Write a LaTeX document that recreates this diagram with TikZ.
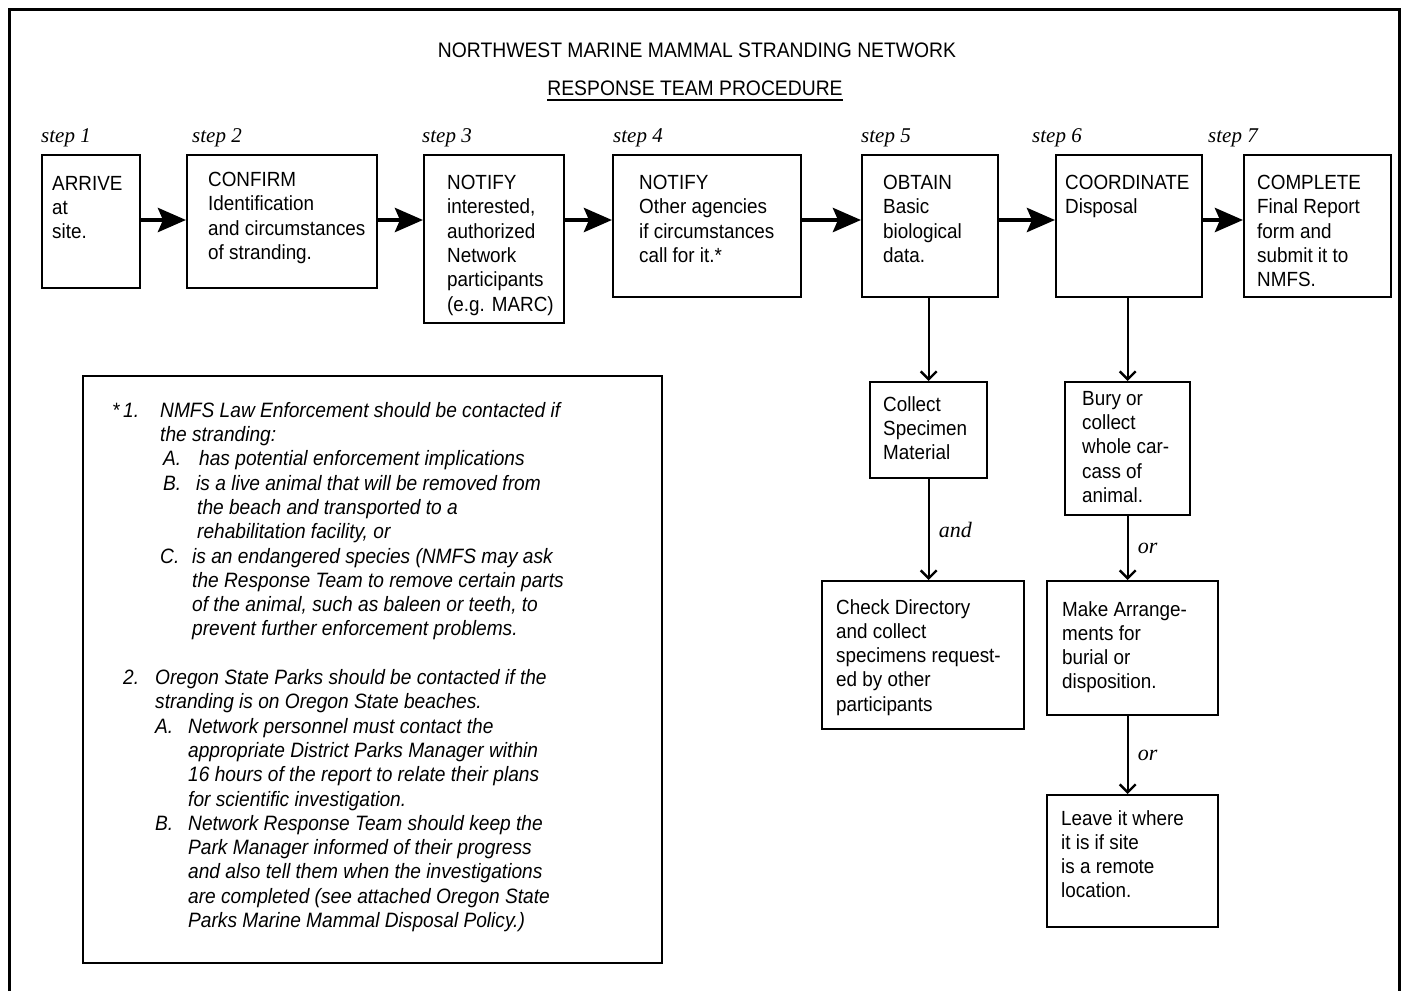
\documentclass[tikz,border=0pt]{standalone}
\usepackage{fontspec}
\setmainfont{Liberation Sans}[FakeStretch=0.92]
\newfontfamily\stepfont{Liberation Serif}
\usetikzlibrary{arrows.meta}
\tikzset{
  stepbox/.style={draw, line width=2.4pt, anchor=north west, inner sep=0pt},
  boxtext/.style={anchor=north west, inner sep=0pt, align=left, font={\fontsize{20.5}{24.3}\selectfont}},
  steplabel/.style={anchor=west, inner sep=0pt, font={\stepfont\itshape\fontsize{21}{24}\selectfont}},
  mainarrow/.style={line width=4.5pt, -{Stealth[length=28pt,width=24pt,inset=5pt]}},
  subarrow/.style={line width=2.4pt, -{Straight Barb[length=8pt,width=16pt]}},
  joinword/.style={midway, right=9pt, inner sep=0pt, font={\stepfont\itshape\fontsize{22}{24}\selectfont}},
}
\begin{document}
\begin{tikzpicture}[x=1pt,y=-1pt]
\useasboundingbox (0,0) rectangle (1405,991);
\draw[line width=3pt] (9,991) -- (9,9) -- (1399,9) -- (1399,991);
% heading
\node[font={\fontsize{21}{24}\selectfont}] (title) at (697,50) {NORTHWEST MARINE MAMMAL STRANDING NETWORK};
\node[inner sep=0pt, font={\fontsize{21}{24}\selectfont}] (subtitle) at (695,88) {RESPONSE TEAM PROCEDURE};
\draw[line width=1.6pt] ([yshift=-5pt]subtitle.base west) -- ([yshift=-5pt]subtitle.base east);
% step labels
\node[steplabel] (s1) at (41,138) {step 1}; \node[steplabel] (s2) at (192,138) {step 2};
\node[steplabel] (s3) at (422,138) {step 3}; \node[steplabel] (s4) at (613,138) {step 4};
\node[steplabel] (s5) at (861,138) {step 5}; \node[steplabel] (s6) at (1032,138) {step 6};
\node[steplabel] (s7) at (1208,138) {step 7};
% main row
\node[stepbox, minimum width=98pt, minimum height=133pt] (arrive) at (41,154) {};
\node[boxtext] (arrive-t) at (52,176) {ARRIVE\\at\\site.};
\node[stepbox, minimum width=190pt, minimum height=133pt] (confirm) at (186,154) {};
\node[boxtext] (confirm-t) at (208,172) {CONFIRM\\Identification\\and circumstances\\of stranding.};
\node[stepbox, minimum width=140pt, minimum height=168pt] (notifyp) at (423,154) {};
\node[boxtext] (notifyp-t) at (447,175) {NOTIFY\\interested,\\authorized\\Network\\participants\\(e.g. MARC)};
\node[stepbox, minimum width=188pt, minimum height=142pt] (notifya) at (612,154) {};
\node[boxtext] (notifya-t) at (639,175) {NOTIFY\\Other agencies\\if circumstances\\call for it.*};
\node[stepbox, minimum width=136pt, minimum height=142pt] (obtain) at (861,154) {};
\node[boxtext] (obtain-t) at (883,175) {OBTAIN\\Basic\\biological\\data.};
\node[stepbox, minimum width=146pt, minimum height=142pt] (coord) at (1055,154) {};
\node[boxtext] (coord-t) at (1065,175) {COORDINATE\\Disposal};
\node[stepbox, minimum width=147pt, minimum height=142pt] (complete) at (1243,154) {};
\node[boxtext] (complete-t) at (1257,175) {COMPLETE\\Final Report\\form and\\submit it to\\NMFS.};
\draw[mainarrow] ([yshift=-66pt]arrive.north east) -- ([yshift=-66pt]confirm.north west);
\draw[mainarrow] ([yshift=-66pt]confirm.north east) -- ([yshift=-66pt]notifyp.north west);
\draw[mainarrow] ([yshift=-66pt]notifyp.north east) -- ([yshift=-66pt]notifya.north west);
\draw[mainarrow] ([yshift=-66pt]notifya.north east) -- ([yshift=-66pt]obtain.north west);
\draw[mainarrow] ([yshift=-66pt]obtain.north east) -- ([yshift=-66pt]coord.north west);
\draw[mainarrow] ([yshift=-66pt]coord.north east) -- ([yshift=-66pt]complete.north west);
% branches under step 5 and step 6
\node[stepbox, minimum width=117pt, minimum height=96pt] (collect) at (869,381) {};
\node[boxtext] (collect-t) at (883,396) {Collect\\Specimen\\Material};
\node[stepbox, minimum width=202pt, minimum height=148pt] (check) at (821,580) {};
\node[boxtext] (check-t) at (836,599) {Check Directory\\and collect\\specimens request-\\ed by other\\participants};
\node[stepbox, minimum width=125pt, minimum height=133pt] (bury) at (1064,381) {};
\node[boxtext] (bury-t) at (1082,391) {Bury or\\collect\\whole car-\\cass of\\animal.};
\node[stepbox, minimum width=171pt, minimum height=134pt] (make) at (1046,580) {};
\node[boxtext] (make-t) at (1062,601) {Make Arrange-\\ments for\\burial or\\disposition.};
\node[stepbox, minimum width=171pt, minimum height=132pt] (leave) at (1046,794) {};
\node[boxtext] (leave-t) at (1061,810) {Leave it where\\it is if site\\is a remote\\location.};
\draw[subarrow] (obtain.south -| collect.north) -- (collect.north);
\draw[subarrow] (collect.south) -- node[joinword] (and) {and} (collect.south |- check.north);
\draw[subarrow] (coord.south -| bury.north) -- (bury.north);
\draw[subarrow] (bury.south) -- node[joinword] (or1) {or} (bury.south |- make.north);
\draw[subarrow] (make.south -| bury.south) -- node[joinword] (or2) {or} (leave.north -| bury.south);
% footnote box
\node[stepbox, minimum width=579pt, minimum height=587pt] (notes) at (82,375) {};
\node[boxtext, font={\itshape\fontsize{20.8}{24.3}\selectfont}] (notes-t) at (112,402) {%
\makebox[11pt][l]{*}\makebox[37pt][l]{1.}NMFS Law Enforcement should be contacted if\\
\hspace*{48pt}the stranding:\\
\hspace*{51pt}\makebox[36pt][l]{A.}has potential enforcement implications\\
\hspace*{51pt}\makebox[33pt][l]{B.}is a live animal that will be removed from\\
\hspace*{85pt}the beach and transported to a\\
\hspace*{85pt}rehabilitation facility, or\\
\hspace*{48pt}\makebox[32pt][l]{C.}is an endangered species (NMFS may ask\\
\hspace*{80pt}the Response Team to remove certain parts\\
\hspace*{80pt}of the animal, such as baleen or teeth, to\\
\hspace*{80pt}prevent further enforcement problems.\\
\mbox{}\\
\hspace*{11pt}\makebox[32pt][l]{2.}Oregon State Parks should be contacted if the\\
\hspace*{43pt}stranding is on Oregon State beaches.\\
\hspace*{43pt}\makebox[33pt][l]{A.}Network personnel must contact the\\
\hspace*{76pt}appropriate District Parks Manager within\\
\hspace*{76pt}16 hours of the report to relate their plans\\
\hspace*{76pt}for scientific investigation.\\
\hspace*{43pt}\makebox[33pt][l]{B.}Network Response Team should keep the\\
\hspace*{76pt}Park Manager informed of their progress\\
\hspace*{76pt}and also tell them when the investigations\\
\hspace*{76pt}are completed (see attached Oregon State\\
\hspace*{76pt}Parks Marine Mammal Disposal Policy.)};
\end{tikzpicture}
\end{document}
